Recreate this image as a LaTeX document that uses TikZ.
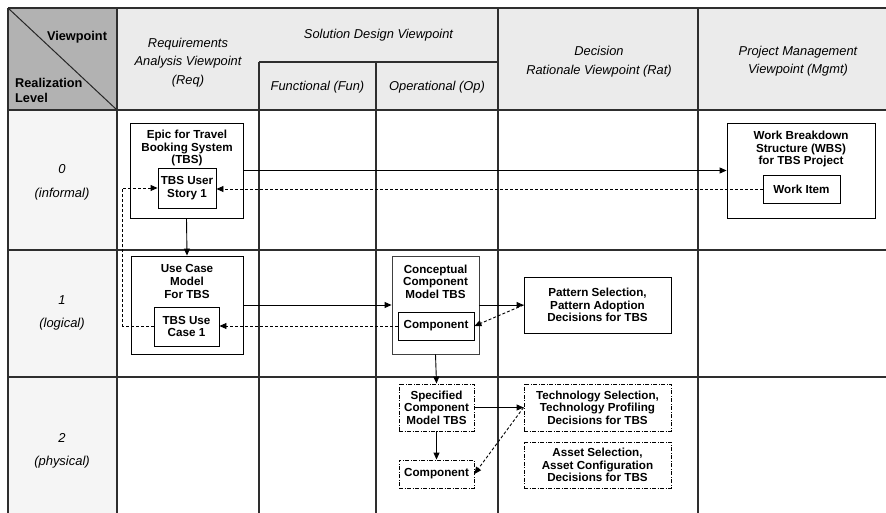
\documentclass[tikz,border=0pt]{standalone}
\usepackage{fontspec}
\setmainfont{Liberation Sans}
\usetikzlibrary{arrows.meta}

\begin{document}
\begin{tikzpicture}[x=1bp,y=-1bp,
  grid/.style={line width=1.6bp, draw=black!82},
  hdr/.style={font=\fontsize{12.9}{18.5}\selectfont\itshape, align=center, inner sep=0},
  corner/.style={font=\fontsize{12.8}{15}\selectfont\bfseries, inner sep=0},
  lvl/.style={font=\fontsize{13}{23.5}\selectfont\itshape, align=center, inner sep=0},
  ttl/.style={font=\fontsize{11.7}{12.7}\selectfont\bfseries, align=center, inner sep=0},
  box/.style={draw=black, line width=0.9bp, fill=white, inner sep=0, ttl},
  planned/.style={box, dash pattern=on 4bp off 1.5bp on 1bp off 1.5bp},
  flow/.style={line width=0.9bp, -{Triangle[length=7bp,width=6bp]}},
  trace/.style={flow, dash pattern=on 3bp off 2bp},
]
\useasboundingbox (0,0) rectangle (886,513);

% cell backgrounds
\fill[black!8] (117,8) rectangle (886,110);
\fill[black!30] (8,8) rectangle (117,110);
\fill[black!4] (8,110) rectangle (117,513);

% table grid
\draw[grid] (8,8) -- (886,8);
\draw[grid] (8,110) -- (886,110);
\draw[grid] (8,250) -- (886,250);
\draw[grid] (8,377) -- (886,377);
\draw[grid] (259,62) -- (498,62);
\draw[grid] (8,8) -- (8,513);
\draw[grid] (117,8) -- (117,513);
\draw[grid] (259,62) -- (259,513);
\draw[grid] (376,62) -- (376,513);
\draw[grid] (498,8) -- (498,513);
\draw[grid] (698,8) -- (698,513);
\draw[line width=1bp, black!85] (8,8) -- (117,110);

% header texts
\node[corner] (vp) at (77,37) {Viewpoint};
\node[corner, anchor=west, align=left] (rl) at (15,90.5) {Realization\\Level};
\node[hdr] (req) at (188,62.5) {Requirements\\Analysis Viewpoint\\(Req)};
\node[hdr] (sol) at (378.5,35.5) {Solution Design Viewpoint};
\node[hdr] (fun) at (317.5,87.5) {Functional (Fun)};
\node[hdr] (op) at (437,87.5) {Operational (Op)};
\node[hdr] (rat) at (599,61.5) {Decision\\Rationale Viewpoint (Rat)};
\node[hdr] (mgmt) at (798,61) {Project Management\\Viewpoint (Mgmt)};

% realization levels
\node[lvl] (l0) at (62,182.5) {0\\(informal)};
\node[lvl] (l1) at (62,313) {1\\(logical)};
\node[lvl] (l2) at (62,451) {2\\(physical)};

% level 0
\node[box, minimum width=113bp, minimum height=95bp] (epic) at (186.5,170.5) {};
\node[ttl] (epict) at (187,148) {Epic for Travel\\Booking System\\(TBS)};
\node[box, minimum width=58bp, minimum height=40bp] (story) at (187,188) {TBS User\\Story 1};
\node[box, minimum width=148bp, minimum height=95bp] (wbs) at (801,170.5) {};
\node[ttl] (wbst) at (801,149) {Work Breakdown\\Structure (WBS)\\for TBS Project};
\node[box, minimum width=77bp, minimum height=28bp] (item) at (801.5,189) {Work Item};

% level 1
\node[box, minimum width=112bp, minimum height=98bp] (ucm) at (187,305) {};
\node[ttl] (ucmt) at (187,281.5) {Use Case\\Model\\For TBS};
\node[box, minimum width=65bp, minimum height=39bp] (uc) at (186.5,326.5) {TBS Use\\Case 1};
\node[box, draw=black!75, minimum width=87bp, minimum height=98bp] (ccm) at (435.5,305) {};
\node[ttl] (ccmt) at (435.5,281.5) {Conceptual\\Component\\Model TBS};
\node[box, minimum width=76bp, minimum height=28bp] (comp) at (436,326) {Component};
\node[box, minimum width=147bp, minimum height=56bp] (pat) at (597.5,305) {Pattern Selection,\\Pattern Adoption\\Decisions for TBS};

% level 2
\node[planned, minimum width=75bp, minimum height=47bp] (scm) at (436.5,407.5) {Specified\\Component\\Model TBS};
\node[planned, minimum width=75bp, minimum height=28bp] (scomp) at (436.5,474) {Component};
\node[planned, minimum width=147bp, minimum height=47bp] (tech) at (597.5,407.5) {Technology Selection,\\Technology Profiling\\Decisions for TBS};
\node[planned, minimum width=147bp, minimum height=46bp] (asset) at (597.5,465) {Asset Selection,\\Asset Configuration\\Decisions for TBS};

% refinement and realization flows
\draw[flow] (epic.east) -- (wbs.west);
\draw[flow] (epic.south) -- (ucm.north);
\draw[flow] (ucm.east) -- (ccm.west);
\draw[flow] (ccm.east) -- (pat.west);
\draw[flow] (ccm.south) -- (scm.north);
\draw[flow] (scm.south) -- (scomp.north);
\draw[flow] (scm.east) -- (tech.west);

% traceability links
\draw[trace] (item.west) -- (item.west -| story.east);
\draw[trace] (comp.west) -- (comp.west -| uc.east);
\draw[trace] (uc.west) -- ++(-31,0) |- (story.west);
\draw[trace] (pat.west) -- (comp.east);
\draw[trace] (tech.west) -- (scomp.east);
\end{tikzpicture}
\end{document}
